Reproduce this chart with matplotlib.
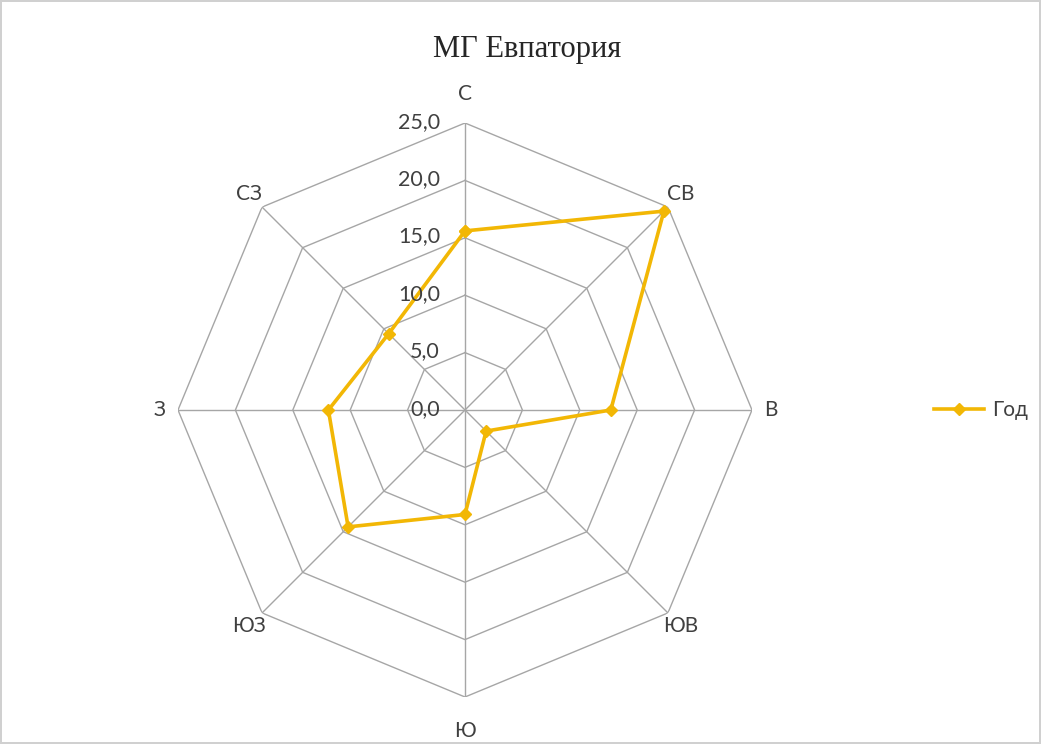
import numpy as np
import matplotlib
matplotlib.use("Agg")
import matplotlib.pyplot as plt

title = "МГ Евпатория"
directions = ["С", "СВ", "В", "ЮВ", "Ю", "ЮЗ", "З", "СЗ"]
values = [15.6, 24.5, 12.7, 2.6, 9.1, 14.4, 11.9, 9.4]
series_name = "Год"
rings = [0, 5, 10, 15, 20, 25]
ring_labels = ["0,0", "5,0", "10,0", "15,0", "20,0", "25,0"]

line_color = "#F2B705"
grid_color = "#A6A6A6"
label_font = ["Lato", "DejaVu Sans"]

fig = plt.figure(figsize=(10.41, 7.44), dpi=100)
fig.patch.set_facecolor("white")
fig.patch.set_edgecolor("#D0D0D0")
fig.patch.set_linewidth(1.5)

R = 287
cx, cy = 465, 410
ax = fig.add_axes([(cx - R) / 1041, (744 - cy - R) / 744, 2 * R / 1041, 2 * R / 744],
                  projection="polar")
ax.set_theta_zero_location("N")
ax.set_theta_direction(-1)
ax.set_ylim(0, 25)
ax.grid(False)
ax.spines["polar"].set_visible(False)
ax.set_xticks([])
ax.set_yticks([])
ax.patch.set_alpha(0)

n = len(directions)
theta = np.arange(n) * 2 * np.pi / n
theta_c = np.append(theta, theta[0])

# polygon rings
for lvl in rings[1:]:
    ax.plot(theta_c, [lvl] * (n + 1), color=grid_color, lw=1.0, zorder=1)
# spokes
for t in theta:
    ax.plot([t, t], [0, rings[-1]], color=grid_color, lw=1.0, zorder=1)

# series
vals_c = values + [values[0]]
ax.plot(theta_c, vals_c, color=line_color, lw=2.6, marker="D", markersize=6,
        zorder=3, label=series_name)

# radial labels
for lvl, lab in zip(rings, ring_labels):
    ax.annotate(lab, xy=(0, lvl), xytext=(-18, 1), textcoords="offset points",
                ha="right", va="center", fontsize=15.5, color="#404040",
                family=label_font, zorder=4)

# category labels
label_r = {"С": 27.5, "Ю": 28.0}
for t, d in zip(theta, directions):
    r = label_r.get(d, 26.6)
    ax.text(t, r, d, ha="center", va="center", fontsize=15, color="#404040",
            family=label_font)

fig.text(527 / 1041, 1 - 50 / 744, title, ha="center", va="center",
         fontsize=22, family=["Liberation Serif", "DejaVu Serif"], color="#262626")

leg = fig.legend(loc="center left", bbox_to_anchor=(934 / 1041, 1 - 410 / 744),
                 frameon=False, handlelength=2.4, handletextpad=0.4,
                 borderaxespad=0, borderpad=0,
                 prop={"family": label_font, "size": 15})
for t in leg.get_texts():
    t.set_color("#404040")

fig.savefig("out.png", dpi=100, facecolor=fig.get_facecolor(), edgecolor=fig.get_edgecolor())
